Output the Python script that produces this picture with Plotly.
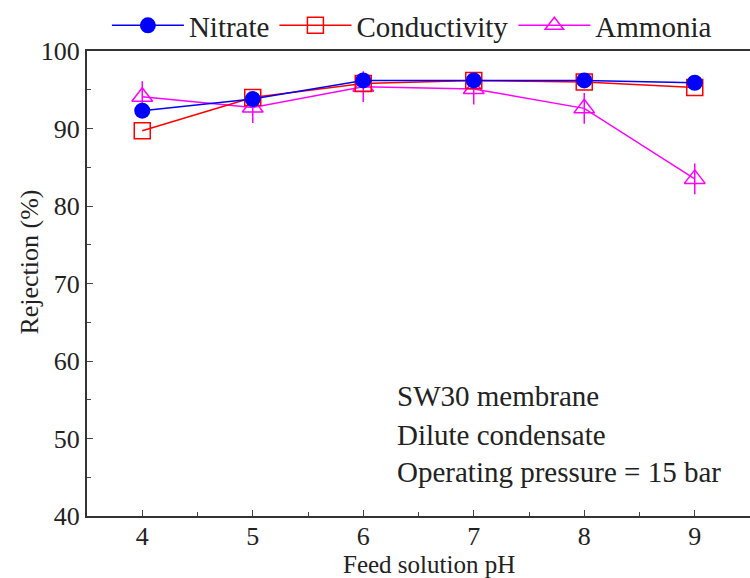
import plotly.graph_objects as go

ph = [4, 5, 6, 7, 8, 9]
nitrate = [92.3, 93.8, 96.2, 96.2, 96.2, 95.9]
conductivity = [89.7, 94.0, 95.8, 96.2, 96.0, 95.3]
ammonia = [94.1, 92.7, 95.4, 95.1, 92.6, 83.5]

FONT = "Liberation Serif"
TXT = "#222222"

fig = go.Figure()
fig.add_trace(go.Scatter(x=ph, y=ammonia, mode="markers", showlegend=False,
                         marker=dict(symbol="line-ns-open", size=22, color="#ff00ff",
                                     line=dict(width=1.5, color="#ff00ff"))))
fig.add_trace(go.Scatter(x=ph, y=ammonia, name="Ammonia", mode="lines+markers",
                         line=dict(color="#ff00ff", width=1.5),
                         marker=dict(symbol="triangle-up-open", size=18, color="#ff00ff",
                                     line=dict(width=1.5))))
fig.add_trace(go.Scatter(x=ph, y=conductivity, name="Conductivity", mode="lines+markers",
                         line=dict(color="#ff0000", width=1.5),
                         marker=dict(symbol="square-open", size=16, color="#ff0000",
                                     line=dict(width=1.5))))
fig.add_trace(go.Scatter(x=ph, y=nitrate, name="Nitrate", mode="lines+markers",
                         line=dict(color="#0000ff", width=1.5),
                         marker=dict(symbol="circle", size=16, color="#0000ff")))

fig.update_layout(
    width=750, height=578,
    margin=dict(l=87, r=0, t=48, b=62),
    paper_bgcolor="white", plot_bgcolor="white",
    font=dict(family=FONT, size=26, color=TXT),
    legend=dict(orientation="h", x=0.03, y=1.0, xanchor="left", yanchor="bottom",
                traceorder="reversed", font=dict(size=29), itemwidth=72,
                bgcolor="rgba(0,0,0,0)"),
    showlegend=True,
)
fig.update_xaxes(range=[3.5, 9.5], tickvals=ph, ticks="inside", ticklen=6,
                 minor=dict(ticks="inside", ticklen=4, dtick=0.5, tick0=3.5),
                 showline=True, linecolor="#333333", linewidth=2, mirror=True,
                 showgrid=False, zeroline=False, ticklabelstandoff=-4)
fig.update_yaxes(range=[40, 100], dtick=10, ticks="inside", ticklen=6,
                 minor=dict(ticks="inside", ticklen=4, dtick=5),
                 showline=True, linecolor="#333333", linewidth=2, mirror=False,
                 showgrid=False, zeroline=False)

# axis titles
fig.add_annotation(xref="paper", yref="paper", x=0.516, y=-0.104, text="Feed solution pH",
                   showarrow=False, xanchor="center", yanchor="middle",
                   font=dict(size=25, color=TXT))
fig.add_annotation(xref="paper", yref="paper", x=0, xshift=-57, y=0.545,
                   text="Rejection (%)", textangle=-90, showarrow=False,
                   xanchor="center", yanchor="middle", font=dict(size=26, color=TXT))

for txt, yv in [("SW30 membrane", 55.5), ("Dilute condensate", 50.5),
                ("Operating pressure = 15 bar", 45.7)]:
    fig.add_annotation(x=6.29, y=yv, xref="x", yref="y", text=txt, showarrow=False,
                       xanchor="left", yanchor="middle", font=dict(size=29, color=TXT))

fig.write_html("out.html")
